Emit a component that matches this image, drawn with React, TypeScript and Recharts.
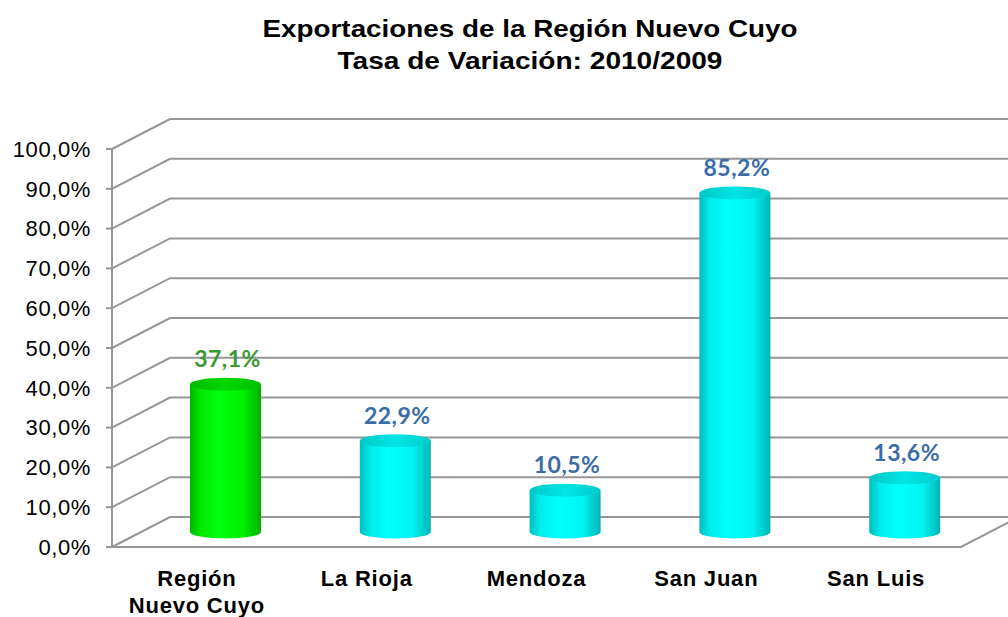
import React from "react";
import {
  BarChart,
  Bar,
  XAxis,
  YAxis,
  CartesianGrid,
  LabelList,
} from "recharts";

const categories = ["Región\nNuevo Cuyo", "La Rioja", "Mendoza", "San Juan", "San Luis"];
const values = [37.1, 22.9, 10.5, 85.2, 13.6];
const yTicks = [0, 10, 20, 30, 40, 50, 60, 70, 80, 90, 100];
const titleLines = ["Exportaciones de la Región Nuevo Cuyo", "Tasa de Variación: 2010/2009"];

const data = categories.map((name, i) => ({ name, value: values[i] }));

// 3D depth of the back wall, and where the cylinders stand inside it
const DEPTH_X = 58;
const DEPTH_Y = -30;
const BAR_DX = 29;
const BAR_DY = -15;
const RY = 6.5;
const GRID = "#969696";
const FONT = "Arial, 'Liberation Sans', sans-serif";
const fmt = (v: number) => v.toFixed(1).replace(".", ",") + "%";

// eslint-disable-next-line @typescript-eslint/no-explicit-any
function GridLine(props: any) {
  const { x1, x2, y1 } = props;
  let d = `M${x1},${y1} L${x1 + DEPTH_X},${y1 + DEPTH_Y} L1010,${y1 + DEPTH_Y}`;
  if (Math.abs(y1 - 547) < 1) {
    d += ` M${x1},${y1} L${x2},${y1} L${x2 + DEPTH_X},${y1 + DEPTH_Y}`;
  }
  return <path key={props.key ?? y1} d={d} fill="none" stroke={GRID} strokeWidth={2} />;
}

// eslint-disable-next-line @typescript-eslint/no-explicit-any
function Cylinder(props: any) {
  const { x, y, width, height, index } = props;
  const green = index === 0;
  const left = x + BAR_DX;
  const right = left + width;
  const rx = width / 2;
  const cx = left + rx;
  const top = y + BAR_DY;
  const bottom = y + height + BAR_DY;
  const body = green ? "url(#gBody)" : "url(#cBody)";
  const cap = green ? "url(#gTop)" : "url(#cTop)";
  return (
    <g>
      <path
        d={`M${left},${top} L${left},${bottom} A${rx},${RY} 0 0 0 ${right},${bottom} L${right},${top} Z`}
        fill={body}
      />
      <ellipse cx={cx} cy={top} rx={rx} ry={RY} fill={cap} />
    </g>
  );
}

// eslint-disable-next-line @typescript-eslint/no-explicit-any
function ValueLabel(props: any) {
  const vb = props.viewBox ?? props;
  const { x, y, width } = vb;
  const { value, index } = props;
  return (
    <text
      x={x + width / 2 + BAR_DX + 2}
      y={y + BAR_DY - 17}
      textAnchor="middle"
      fontFamily="Lato, 'Open Sans', sans-serif"
      fontWeight={700}
      fontSize={23}
      letterSpacing={0.5}
      fill={index === 0 ? "#3a9a32" : "#3a6ca6"}
    >
      {fmt(value)}
    </text>
  );
}

// eslint-disable-next-line @typescript-eslint/no-explicit-any
function CategoryTick(props: any) {
  const { x, y, payload } = props;
  const lines = String(payload.value).split("\n");
  return (
    <text
      x={x}
      y={y}
      textAnchor="middle"
      fontFamily={FONT}
      fontWeight={700}
      fontSize={22}
      letterSpacing={0.8}
      fill="#000"
    >
      {lines.map((l, i) => (
        <tspan key={l} x={x} dy={i === 0 ? 31 : 27}>
          {l}
        </tspan>
      ))}
    </text>
  );
}

export default function App() {
  return (
    <div style={{ position: "absolute", left: 0, top: 0, width: 1008, height: 617, background: "#fff", overflow: "hidden" }}>
      <svg width={1008} height={90} style={{ position: "absolute", left: 0, top: 0 }}>
        {titleLines.map((t, i) => (
          <text
            key={t}
            x={530}
            y={37 + i * 32}
            textAnchor="middle"
            fontFamily={FONT}
            fontWeight={700}
            fontSize={24}
            textLength={i === 0 ? 535 : 385}
            lengthAdjust="spacingAndGlyphs"
          >
            {t}
          </text>
        ))}
      </svg>
      <BarChart
        width={1008}
        height={617}
        data={data}
        margin={{ top: 149, right: 47, bottom: 0, left: 0 }}
        barSize={71}
        style={{ position: "absolute", left: 0, top: 0 }}
      >
        <defs>
          <linearGradient id="cBody" x1="0" y1="0" x2="1" y2="0">
            <stop offset="0%" stopColor="#00bdbd" />
            <stop offset="15%" stopColor="#00ecec" />
            <stop offset="40%" stopColor="#00ffff" />
            <stop offset="75%" stopColor="#00f4f4" />
            <stop offset="100%" stopColor="#00b4b4" />
          </linearGradient>
          <linearGradient id="cTop" x1="0" y1="0" x2="1" y2="0">
            <stop offset="0%" stopColor="#00c8c8" />
            <stop offset="50%" stopColor="#00e4e4" />
            <stop offset="100%" stopColor="#00cccc" />
          </linearGradient>
          <linearGradient id="gBody" x1="0" y1="0" x2="1" y2="0">
            <stop offset="0%" stopColor="#00b400" />
            <stop offset="15%" stopColor="#00e800" />
            <stop offset="40%" stopColor="#00ff10" />
            <stop offset="75%" stopColor="#00f000" />
            <stop offset="100%" stopColor="#00b000" />
          </linearGradient>
          <linearGradient id="gTop" x1="0" y1="0" x2="1" y2="0">
            <stop offset="0%" stopColor="#00bb00" />
            <stop offset="50%" stopColor="#00d800" />
            <stop offset="100%" stopColor="#00c000" />
          </linearGradient>
        </defs>
        <CartesianGrid vertical={false} horizontal={GridLine} />
        <XAxis
          dataKey="name"
          height={70}
          axisLine={false}
          tickLine={false}
          tick={CategoryTick}
          interval={0}
        />
        <YAxis
          width={112}
          domain={[0, 100]}
          ticks={yTicks}
          tickFormatter={fmt}
          axisLine={{ stroke: GRID, strokeWidth: 2 }}
          tickLine={{ stroke: GRID, strokeWidth: 2 }}
          tickSize={6}
          tickMargin={15}
          tick={{ fontFamily: FONT, fontSize: 22, fill: "#000", letterSpacing: 0.6 }}
        />
        <Bar dataKey="value" shape={Cylinder} isAnimationActive={false}>
          <LabelList dataKey="value" content={ValueLabel} />
        </Bar>
      </BarChart>
    </div>
  );
}
